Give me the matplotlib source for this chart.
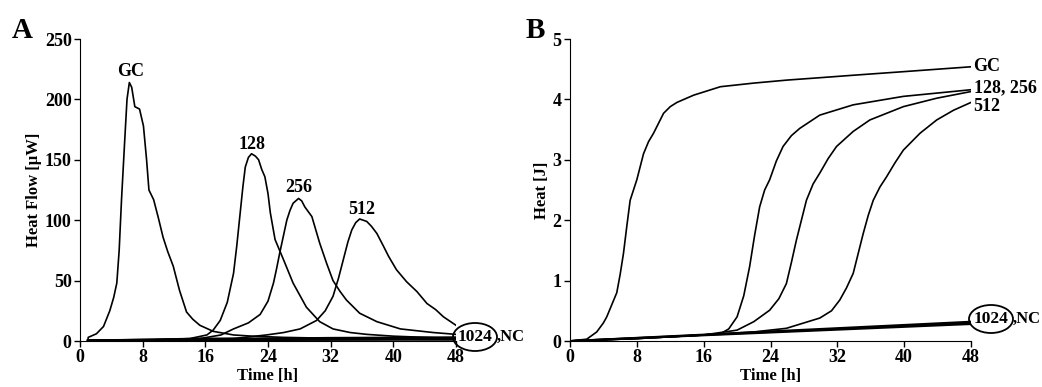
import matplotlib
matplotlib.use("Agg")
import matplotlib.pyplot as plt
from matplotlib.patches import Ellipse

plt.rcParams['font.family'] = ['Liberation Serif', 'DejaVu Serif']
plt.rcParams['font.weight'] = 'bold'
plt.rcParams['font.size'] = 13

# ---- panel A: heat flow [uW] ----
gc_a_x = [1.0, 1.05, 2.1, 3.0, 3.8, 4.3, 4.7, 5.0, 5.3, 5.7, 6.0, 6.3, 6.6, 7.0, 7.6, 8.1, 8.5, 8.8,
          9.4, 10.0, 10.6, 11.2, 11.9, 12.7, 13.6, 14.4, 15.3, 17.0, 19.6, 22, 26, 30, 36, 42, 48]
gc_a_y = [0, 3, 6, 12, 25, 36, 48, 75, 117, 165, 200, 214, 210, 194, 192, 178, 150, 125,
          117, 102, 86, 74, 62, 42, 24, 18, 13, 8, 5, 4, 3, 2.5, 2, 1.5, 1.2]

c128_a_x = [1, 10, 14, 16.2, 17.0, 17.9, 18.8, 19.6, 20.0, 20.4, 20.8, 21.1, 21.5, 21.9, 22.4, 22.8,
            23.2, 23.6, 24.0, 24.3, 24.9, 26.0, 27.2, 28.9, 30.6, 32.3, 34.5, 36.6, 40, 44, 48]
c128_a_y = [0.5, 1, 2, 5, 9, 17, 32, 56, 78, 103, 128, 144, 152, 155, 153, 150,
            142, 136, 122, 106, 84, 67, 48, 28, 16, 10, 7, 5.5, 4, 3, 2]

c256_a_x = [1, 10, 15.3, 18, 19.6, 21.5, 23.0, 24.0, 24.7, 25.1, 25.5, 26.0, 26.4, 26.8, 27.2, 27.9,
            28.3, 28.7, 29.6, 30.1, 30.6, 31.5, 32.3, 33.2, 34.0, 35.7, 37.9, 40.9, 45.1, 48]
c256_a_y = [0.5, 1, 2, 5, 10, 15, 22, 33, 48, 60, 73, 88, 100, 108, 114, 118,
            116, 111, 103, 92, 81, 64, 50, 41, 34, 23, 16, 10, 7, 5.5]

c512_a_x = [1, 12, 19.6, 23.8, 26, 28.1, 30.2, 31.3, 32.3, 33.0, 33.6, 34.2, 34.7, 35.2, 35.7, 36.6,
            37.2, 37.9, 38.7, 39.4, 40.4, 41.7, 43.0, 44.3, 45.4, 46.4, 48]
c512_a_y = [0.5, 1, 2, 5, 7, 10, 17, 25, 37, 52, 67, 82, 92, 98, 101, 99,
            95, 89, 79, 70, 59, 49, 41, 31, 26, 20, 13]

base_a_x = [1, 16, 32, 48]
c1024_a_y = [0.5, 1.5, 2.5, 3]
nc_a_y = [0.3, 0.8, 1.0, 1.2]
c1024b_a_y = [0.2, 2.0, 1.5, 2.0]

# ---- panel B: heat [J] ----
gc_b_x = [0, 2, 3.2, 4.0, 4.4, 5.0, 5.6, 6.0, 6.4, 6.8, 7.2, 8.0, 8.8, 9.4, 10.0, 11.2, 12.0, 12.8,
          14.8, 18.0, 22, 26, 30, 33.9, 40, 48]
gc_b_y = [0, 0.03, 0.15, 0.3, 0.4, 0.6, 0.8, 1.1, 1.45, 1.9, 2.33, 2.67, 3.1, 3.3, 3.44, 3.77, 3.88, 3.95,
          4.07, 4.21, 4.27, 4.32, 4.36, 4.40, 4.46, 4.54]

c128_b_x = [0, 8, 16, 18, 19, 20, 20.8, 21.5, 22.1, 22.7, 23.3, 23.9, 24.7, 25.5, 26.5, 27.5, 29.9,
            33.9, 39.9, 48]
c128_b_y = [0, 0.04, 0.1, 0.12, 0.2, 0.4, 0.75, 1.23, 1.75, 2.22, 2.5, 2.67, 2.98, 3.22, 3.4, 3.52, 3.74,
            3.91, 4.05, 4.16]

c256_b_x = [0, 8, 16, 20, 22, 23.9, 25, 25.9, 26.5, 27.1, 27.7, 28.3, 29.1, 29.9, 30.9, 31.9, 33.9,
            35.9, 39.9, 43.9, 48]
c256_b_y = [0, 0.04, 0.1, 0.18, 0.32, 0.51, 0.7, 0.95, 1.3, 1.67, 2.0, 2.33, 2.6, 2.78, 3.02, 3.22, 3.47,
            3.66, 3.88, 4.02, 4.13]

c512_b_x = [0, 8, 16, 22, 25.9, 29.9, 31.3, 32.3, 33.1, 33.9, 34.5, 35.1, 35.7, 36.3, 37.1, 37.9,
            38.9, 39.9, 41.9, 43.9, 45.9, 48]
c512_b_y = [0, 0.04, 0.1, 0.15, 0.21, 0.38, 0.5, 0.68, 0.88, 1.12, 1.45, 1.78, 2.08, 2.33, 2.55, 2.72,
            2.95, 3.16, 3.44, 3.66, 3.82, 3.95]

base_b_x = [0, 48]
c1024_b_y = [0, 0.30]
nc_b_y = [0, 0.28]
c1024b_b_y = [0, 0.32]

xticks = [0, 8, 16, 24, 32, 40, 48]

W, H = 1042, 387
fig = plt.figure(figsize=(W / 100, H / 100), dpi=100)
axA = fig.add_axes([80 / W, 1 - 341 / H, 376 / W, 302 / H])
axB = fig.add_axes([570 / W, 1 - 341 / H, 401 / W, 302 / H])

lw = 1.2
for x, y in [(gc_a_x, gc_a_y), (c128_a_x, c128_a_y), (c256_a_x, c256_a_y), (c512_a_x, c512_a_y)]:
    axA.plot(x, y, color='black', lw=lw)
for y in [c1024_a_y, nc_a_y, c1024b_a_y]:
    axA.plot(base_a_x, y, color='black', lw=1.6)

for x, y in [(gc_b_x, gc_b_y), (c128_b_x, c128_b_y), (c256_b_x, c256_b_y), (c512_b_x, c512_b_y)]:
    axB.plot(x, y, color='black', lw=lw)
for y in [c1024_b_y, nc_b_y, c1024b_b_y]:
    axB.plot(base_b_x, y, color='black', lw=1.4)

for ax in (axA, axB):
    ax.set_xlim(0, 48)
    ax.set_xticks(xticks)
    ax.spines['top'].set_visible(False)
    ax.spines['right'].set_visible(False)
    ax.tick_params(direction='out', length=4, width=1, labelsize=13, pad=2)
    for lab in ax.get_xticklabels() + ax.get_yticklabels():
        lab.set_fontweight('bold')
    ax.set_xlabel('Time [h]', fontweight='bold', fontsize=12, labelpad=1)

axA.set_ylim(0, 250)
axA.set_yticks([0, 50, 100, 150, 200, 250])
axA.set_ylabel('Heat Flow [µW]', fontweight='bold', fontsize=12, labelpad=2)
axB.set_ylim(0, 5)
axB.set_yticks([0, 1, 2, 3, 4, 5])
axB.set_ylabel('Heat [J]', fontweight='bold', fontsize=12, labelpad=2)

# curve labels
axA.text(6.4, 216, 'GC', ha='center', va='bottom', fontsize=13, fontweight='bold')
axA.text(21.9, 156, '128', ha='center', va='bottom', fontsize=13, fontweight='bold')
axA.text(27.9, 120, '256', ha='center', va='bottom', fontsize=13, fontweight='bold')
axA.text(36.0, 102, '512', ha='center', va='bottom', fontsize=13, fontweight='bold')

axB.text(48.3, 4.54, 'GC', ha='left', va='center', fontsize=13, fontweight='bold', clip_on=False)
axB.text(48.3, 4.2, '128, 256', ha='left', va='center', fontsize=13, fontweight='bold', clip_on=False)
axB.text(48.3, 3.89, '512', ha='left', va='center', fontsize=13, fontweight='bold', clip_on=False)

# circled "1024" with ",NC" in both panels (placed in figure pixels)
for cx, cy, ew, eh in [(475, 337, 44, 28), (991, 319, 44, 28)]:
    fig.patches.append(Ellipse((cx / W, 1 - cy / H), ew / W, eh / H, transform=fig.transFigure,
                               fill=False, ec='black', lw=1.3))
    fig.text(cx / W, 1 - cy / H, '1024', ha='center', va='center', fontsize=12.5, fontweight='bold')
    fig.text((cx + ew / 2) / W, 1 - cy / H, ',NC', ha='left', va='center', fontsize=12,
             fontweight='bold')

fig.text(12 / W, 1 - 31 / H, 'A', fontsize=21, fontweight='bold', va='center')
fig.text(526 / W, 1 - 31 / H, 'B', fontsize=21, fontweight='bold', va='center')

fig.savefig('out.png', dpi=100)
